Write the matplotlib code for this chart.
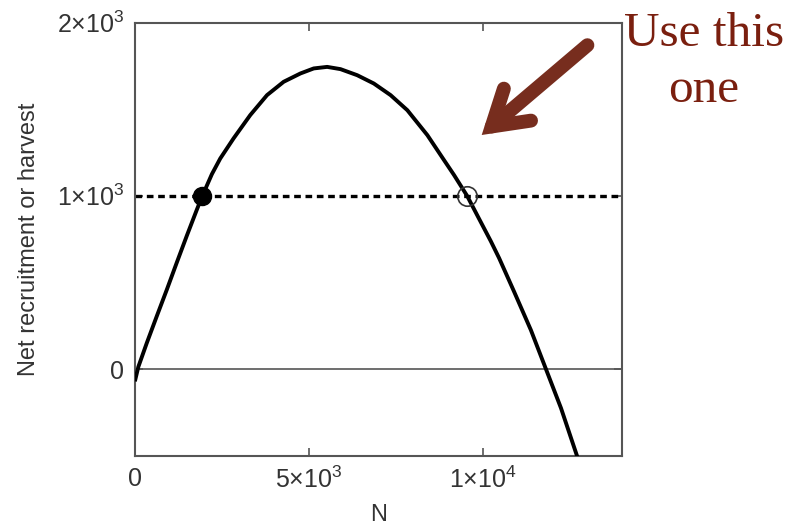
import matplotlib
matplotlib.use("Agg")
import matplotlib.pyplot as plt

plt.rcParams['font.family'] = ['Liberation Sans', 'DejaVu Sans']
plt.rcParams['mathtext.fontset'] = 'custom'
plt.rcParams['mathtext.rm'] = 'Liberation Sans'
plt.rcParams['mathtext.it'] = 'Liberation Sans'

# curve
N = [0, 87, 329, 617, 906, 1194, 1483, 1771, 1930, 2204, 2444, 2827, 3309,
     3791, 4270, 4752, 5135, 5522, 5906, 6387, 6866, 7348, 7830, 8407, 8886,
     9174, 9550, 9849, 10233, 10473, 10905, 11387, 11820, 12253, 12706]
recruit = [-60, 13, 150, 305, 458, 615, 770, 920, 1000, 1125, 1215, 1331, 1466,
           1581, 1658, 1706, 1735, 1744, 1731, 1696, 1648, 1581, 1494, 1350, 1206,
           1120, 1000, 885, 738, 640, 446, 225, 0, -225, -496]
harvest = 1000
eq_low = 1930
eq_high = 9550

xticks = [0, 5000, 10000]
xlabels = ['0', '5×10$^3$', '1×10$^4$']
yticks = [0, 1000, 2000]
ylabels = ['0', '1×10$^3$', '2×10$^3$']

fig = plt.figure(figsize=(8.06, 5.30), dpi=100)
ax = fig.add_axes([0.1679, 0.1402, 0.6034, 0.8173])

grey = '#555555'
ax.axhline(0, color=grey, lw=1.2, zorder=1)
ax.plot(N, recruit, color='black', lw=2.8, zorder=3, solid_joinstyle='round')
ax.axhline(harvest, color='black', lw=2.4, linestyle=(0, (2, 1.4)), zorder=2)
ax.plot(eq_low, harvest, 'o', ms=13, color='black', zorder=4)
ax.plot(eq_high, harvest, 'o', ms=14, mfc='none', mec='#333333', mew=1.2, zorder=4)

ax.set_xlim(0, 14000)
ax.set_ylim(-500, 2000)
ax.set_xticks(xticks)
ax.set_xticklabels(xlabels)
ax.set_yticks(yticks)
ax.set_yticklabels(ylabels)
ax.tick_params(direction='in', length=6, width=1.2, color=grey, labelsize=18,
               labelcolor='#333333', top=True, right=True, pad=8)
for s in ax.spines.values():
    s.set_color(grey)
    s.set_linewidth(1.5)

ax.set_xlabel('N', fontsize=17, color='#333333', labelpad=8)
ax.set_ylabel('Net recruitment or harvest', fontsize=17, color='#333333', labelpad=12)

# brown arrow pointing at the upper equilibrium
brown = '#772d1e'
ax.annotate('', xy=(481.7 / 806, 1 - 135 / 530), xycoords='figure fraction',
            xytext=(587.4 / 806, 1 - 45.2 / 530), textcoords='figure fraction',
            arrowprops=dict(arrowstyle='->,head_length=2.43,head_width=1.51',
                            color=brown, lw=10, shrinkA=0, shrinkB=0,
                            mutation_scale=10, capstyle='round', joinstyle='miter'),
            annotation_clip=False)

fig.text(704 / 806, 1 - 62 / 530, 'Use this\none', ha='center', va='center',
         fontsize=35.5, color='#7a1f0f', family='Liberation Serif', linespacing=1.36)

fig.savefig('out.png', dpi=100)
